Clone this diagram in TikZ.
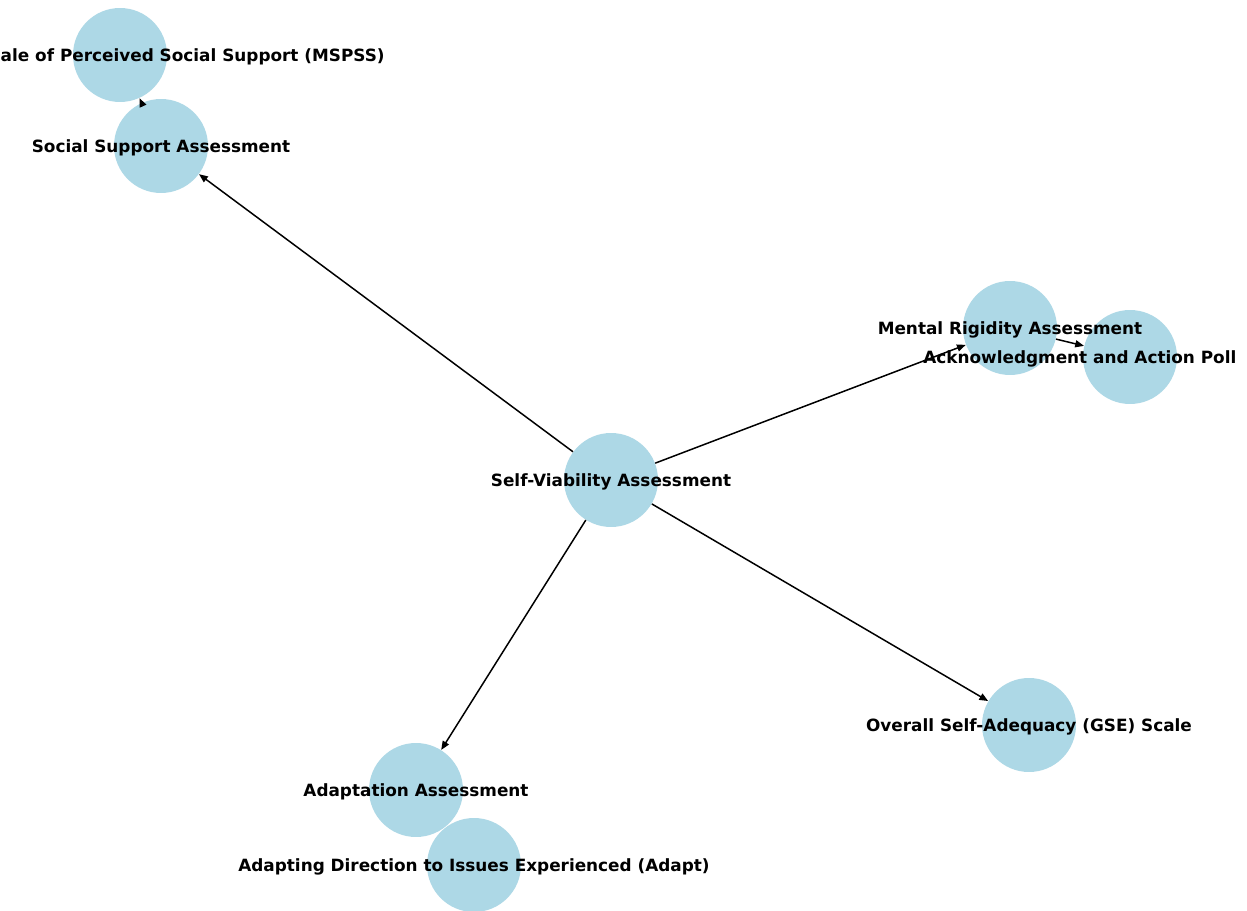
\documentclass[tikz,border=0pt]{standalone}
\usepackage{fontspec}
\setmainfont{DejaVu Sans}
\usepackage{xcolor}
\usepackage{tikz}
\usetikzlibrary{arrows.meta,positioning}

\definecolor{nodeblue}{HTML}{ADD8E6}

\begin{document}
\begin{tikzpicture}[
  x=0.02cm, y=-0.02cm,
  >={Triangle[length=5pt,width=4pt]},
  vtx/.style={circle, fill=nodeblue, inner sep=0pt, minimum size=1.88cm},
  lbl/.style={font=\fontsize{9.6}{11}\selectfont\bfseries, text=black, inner sep=0pt, yshift=-1pt},
  edg/.style={->, line width=0.85pt, black}
]

% ==================== CANVAS ====================
\fill[white] (0,0) rectangle (1247,911);
\useasboundingbox (0,0) rectangle (1247,911);
\clip (0,0) rectangle (1247,911);

% ==================== CIRCLES ====================
\node[vtx] (sv)    at (611,480) {};
\node[vtx] (ss)    at (161,146) {};
\node[vtx] (mspss) at (120,55)  {};
\node[vtx] (mr)    at (1010,328) {};
\node[vtx] (ack)   at (1130,357) {};
\node[vtx] (gse)   at (1029,725) {};
\node[vtx] (adp)   at (416,790) {};
\node[vtx] (adt)   at (474,865) {};

% ==================== EDGES ====================
\draw[edg] (sv) -- (ss);
\draw[edg] (sv) -- (mr);
\draw[edg] (sv) -- (gse);
\draw[edg] (sv) -- (adp);
\draw[edg] (ss) -- (mspss);
\draw[edg] (mr) -- (ack);

% ==================== LABELS ====================
\node[lbl] (sv-t)    at (sv)    {Self-Viability Assessment};
\node[lbl] (ss-t)    at (ss)    {Social Support Assessment};
\node[lbl, anchor=east] (mspss-t) at (385,55) {Multidimensional Scale of Perceived Social Support (MSPSS)};
\node[lbl] (mr-t)    at (mr)    {Mental Rigidity Assessment};
\node[lbl, anchor=west] (ack-t) at (923,357) {Acknowledgment and Action Poll};
\node[lbl] (gse-t)   at (gse)   {Overall Self-Adequacy (GSE) Scale};
\node[lbl] (adp-t)   at (adp)   {Adaptation Assessment};
\node[lbl] (adt-t)   at (adt)   {Adapting Direction to Issues Experienced (Adapt)};

\end{tikzpicture}
\end{document}
